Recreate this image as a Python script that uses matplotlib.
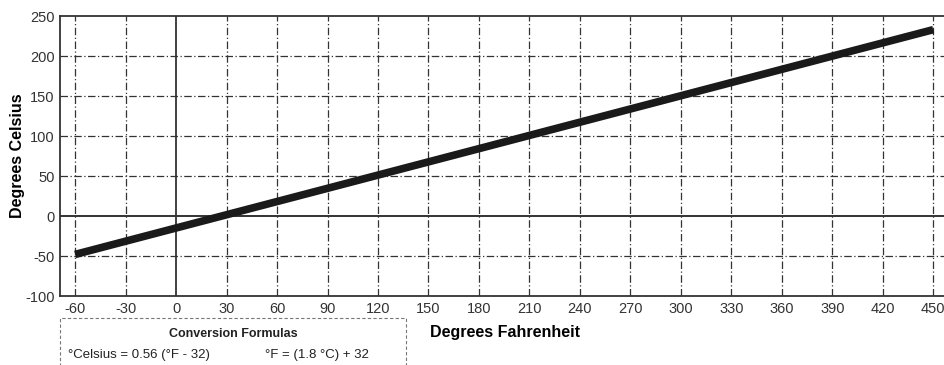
import matplotlib.pyplot as plt
from matplotlib.patches import Rectangle
import numpy as np

# valeurs
fahrenheit = [-60, 450]
celsius = [-48, 233]
x_ticks = list(range(-60, 451, 30))
y_ticks = list(range(-100, 251, 50))

plt.rcParams['font.family'] = ['Liberation Sans', 'DejaVu Sans']
plt.rcParams['axes.unicode_minus'] = False

fig = plt.figure(figsize=(9.45, 3.65), dpi=100)
ax = fig.add_axes([0.0635, 0.189, 0.9365, 0.767])

ax.plot(fahrenheit, celsius, color='#1a1a1a', linewidth=5.5, solid_capstyle='butt', zorder=3)

ax.set_xlim(-69, 457)
ax.set_ylim(-100, 250)
ax.set_xticks(x_ticks)
ax.set_yticks(y_ticks)
ax.tick_params(length=0, labelsize=10.5, colors='#333333', pad=4)

for x in x_ticks:
    ls = '-' if x == 0 else (0, (6, 2, 1, 2))
    lw = 1.3 if x == 0 else 0.9
    ax.axvline(x, color='#333333', linewidth=lw, linestyle=ls, zorder=1)
for y in y_ticks[1:-1]:
    ls = '-' if y == 0 else (0, (6, 2, 1, 2))
    lw = 1.4 if y == 0 else 0.9
    ax.axhline(y, color='#333333', linewidth=lw, linestyle=ls, zorder=1)

for s in ['left', 'top', 'bottom']:
    ax.spines[s].set_color('#333333')
    ax.spines[s].set_linewidth(1.3)
ax.spines['right'].set_visible(False)

ax.set_ylabel('Degrees Celsius', fontsize=11.5, fontweight='bold')
ax.yaxis.set_label_coords(-0.039, 0.5)
fig.text(0.455, 0.09, 'Degrees Fahrenheit', fontsize=11.5, fontweight='bold', ha='left', va='center')

# encadré des formules
box = Rectangle((0.0635, -0.02), 0.366, 0.15, transform=fig.transFigure, fill=False,
                edgecolor='#777777', linewidth=0.8, linestyle=(0, (3, 2)))
fig.patches.append(box)
fig.text(0.247, 0.085, 'Conversion Formulas', fontsize=9, fontweight='bold', ha='center', va='center', color='#222222')
fig.text(0.072, 0.027, '°Celsius = 0.56 (°F - 32)', fontsize=9.5, ha='left', va='center', color='#222222')
fig.text(0.28, 0.027, '°F = (1.8 °C) + 32', fontsize=9.5, ha='left', va='center', color='#222222')

fig.savefig('out.png', dpi=100)
